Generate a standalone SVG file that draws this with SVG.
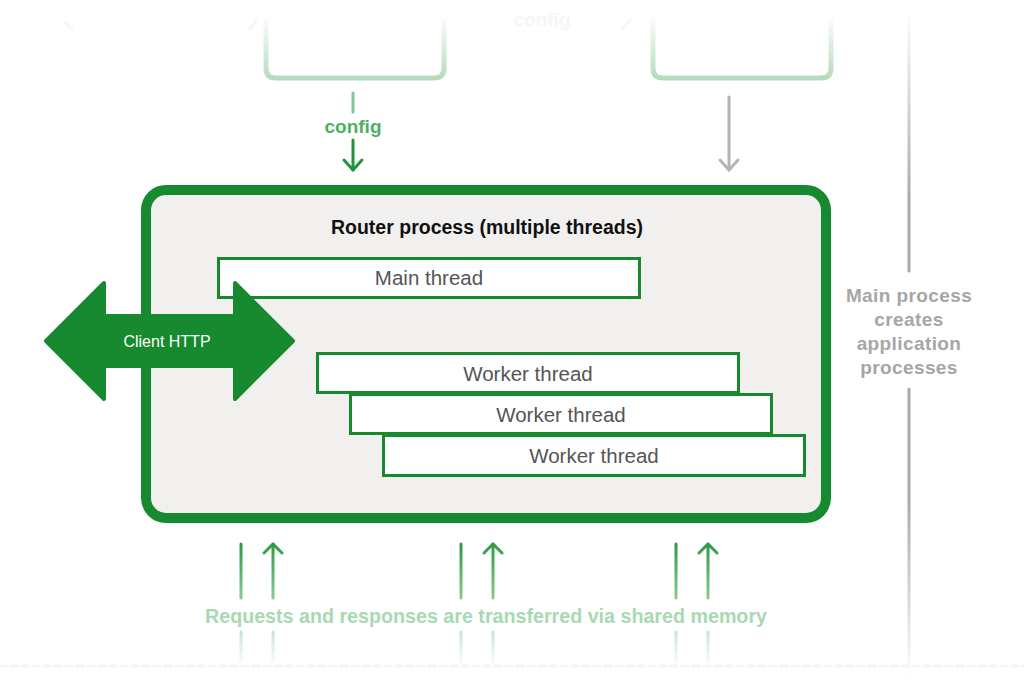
<svg xmlns="http://www.w3.org/2000/svg" width="1024" height="684" viewBox="0 0 1024 684">
<defs>
<style>
.t{font-family:"Liberation Sans",Arial,sans-serif}
.thr{fill:#fff;stroke:#178a2f;stroke-width:3}
.thrt{font-family:"Liberation Sans",Arial,sans-serif;font-size:20.5px;fill:#555;text-anchor:middle}
.grey{font-family:"Liberation Sans",Arial,sans-serif;font-size:19px;font-weight:bold;fill:#a6a6a6;text-anchor:middle;letter-spacing:0.4px}
</style>
<linearGradient id="topBox" gradientUnits="userSpaceOnUse" x1="0" y1="15" x2="0" y2="80">
<stop offset="0" stop-color="#ffffff"/>
<stop offset="1" stop-color="#b3dbbb"/>
</linearGradient>
<linearGradient id="vTop" gradientUnits="userSpaceOnUse" x1="0" y1="10" x2="0" y2="200">
<stop offset="0" stop-color="#ffffff"/>
<stop offset="1" stop-color="#a9a9a9"/>
</linearGradient>
<linearGradient id="vBot" gradientUnits="userSpaceOnUse" x1="0" y1="500" x2="0" y2="680">
<stop offset="0" stop-color="#a9a9a9"/>
<stop offset="1" stop-color="#ffffff"/>
</linearGradient>
<linearGradient id="upG" gradientUnits="userSpaceOnUse" x1="0" y1="543" x2="0" y2="600">
<stop offset="0" stop-color="#2b9a42"/>
<stop offset="1" stop-color="#8ccb99"/>
</linearGradient>
<linearGradient id="lowG" gradientUnits="userSpaceOnUse" x1="0" y1="630" x2="0" y2="668">
<stop offset="0" stop-color="#c5e5cc"/>
<stop offset="1" stop-color="#ffffff"/>
</linearGradient>
</defs>
<rect width="1024" height="684" fill="#fff"/>

<!-- faded top nodes -->
<g id="top-box-left">
<path d="M266,10 V68 Q266,78 276,78 H434 Q444,78 444,68 V10" fill="none" stroke="url(#topBox)" stroke-width="5"/>
</g>
<g id="top-box-right">
<path d="M653,10 V68 Q653,78 663,78 H821 Q831,78 831,68 V10" fill="none" stroke="url(#topBox)" stroke-width="5"/>
</g>
<g id="top-faint">
<path d="M64,22 L73,30" stroke="#f5f5f5" stroke-width="3" fill="none"/>
<path d="M257,20 L249,30" stroke="#f5f5f5" stroke-width="3" fill="none"/>
<path d="M631,19 L621,30" stroke="#f5f5f5" stroke-width="3" fill="none"/>
<text class="t" x="542" y="26" font-size="19" font-weight="bold" fill="#f6f6f6" text-anchor="middle">config</text>
</g>

<!-- connectors -->
<g id="connectors" fill="none" stroke-linecap="round" stroke-linejoin="round">
<line x1="353" y1="93" x2="353" y2="112" stroke="#84c593" stroke-width="3"/>
<line x1="353" y1="140" x2="353" y2="170" stroke="#23923a" stroke-width="3"/>
<path d="M344,160 L353,170 L362,160" stroke="#23923a" stroke-width="3"/>
<line x1="729" y1="97" x2="729" y2="170" stroke="#b4b4b4" stroke-width="3"/>
<path d="M720,160 L729,170 L738,160" stroke="#b4b4b4" stroke-width="3"/>

<line x1="909" y1="12" x2="909" y2="271" stroke="url(#vTop)" stroke-width="3"/>
<line x1="909" y1="389" x2="909" y2="676" stroke="url(#vBot)" stroke-width="3"/>

<g stroke="url(#upG)" stroke-width="3">
<line x1="241" y1="544" x2="241" y2="598"/>
<line x1="273" y1="544" x2="273" y2="598"/>
<path d="M264,553 L273,544 L282,553"/>
<line x1="461" y1="544" x2="461" y2="598"/>
<line x1="493" y1="544" x2="493" y2="598"/>
<path d="M484,553 L493,544 L502,553"/>
<line x1="676" y1="544" x2="676" y2="598"/>
<line x1="708" y1="544" x2="708" y2="598"/>
<path d="M699,553 L708,544 L717,553"/>
</g>
<g stroke="url(#lowG)" stroke-width="3">
<line x1="241" y1="632" x2="241" y2="668"/>
<line x1="273" y1="632" x2="273" y2="668"/>
<line x1="461" y1="632" x2="461" y2="668"/>
<line x1="493" y1="632" x2="493" y2="668"/>
<line x1="676" y1="632" x2="676" y2="668"/>
<line x1="708" y1="632" x2="708" y2="668"/>
</g>
<line x1="0" y1="666" x2="1024" y2="666" stroke="#f5f5f5" stroke-width="3" stroke-dasharray="6 5"/>
</g>

<text class="t" x="353" y="133" font-size="19" font-weight="bold" fill="#4fb064" text-anchor="middle">config</text>
<text class="t" x="486" y="623" font-size="20.5" font-weight="bold" fill="#a8d9b2" text-anchor="middle" textLength="562" lengthAdjust="spacingAndGlyphs">Requests and responses are transferred via shared memory</text>

<g id="main-process-label">
<text class="grey" x="909" y="302">Main process</text>
<text class="grey" x="909" y="326">creates</text>
<text class="grey" x="909" y="350">application</text>
<text class="grey" x="909" y="374">processes</text>
</g>

<!-- router process -->
<g id="router-process">
<rect x="146" y="190" width="680" height="328" rx="20" fill="#f1f0ef" stroke="#178a2f" stroke-width="10"/>
<text class="t" x="487" y="234" font-size="19.5" font-weight="bold" fill="#111" text-anchor="middle">Router process (multiple threads)</text>
</g>
<g id="main-thread">
<rect class="thr" x="218.5" y="258.5" width="421" height="39"/>
<text class="thrt" x="429" y="285">Main thread</text>
</g>
<g id="worker-thread-1">
<rect class="thr" x="317.5" y="353.5" width="421" height="39"/>
<text class="thrt" x="528" y="381">Worker thread</text>
</g>
<g id="worker-thread-2">
<rect class="thr" x="350.5" y="394.5" width="421" height="39"/>
<text class="thrt" x="561" y="422">Worker thread</text>
</g>
<g id="worker-thread-3">
<rect class="thr" x="383.5" y="435.5" width="421" height="40"/>
<text class="thrt" x="594" y="463">Worker thread</text>
</g>
<g id="client-http">
<path d="M46,341 L104,283 L104,316 L235,316 L235,283 L293,341 L235,399 L235,366 L104,366 L104,399 Z" fill="#178a2f" stroke="#178a2f" stroke-width="4" stroke-linejoin="round"/>
<text class="t" x="167" y="347" font-size="16" fill="#fff" text-anchor="middle">Client HTTP</text>
</g>
</svg>
